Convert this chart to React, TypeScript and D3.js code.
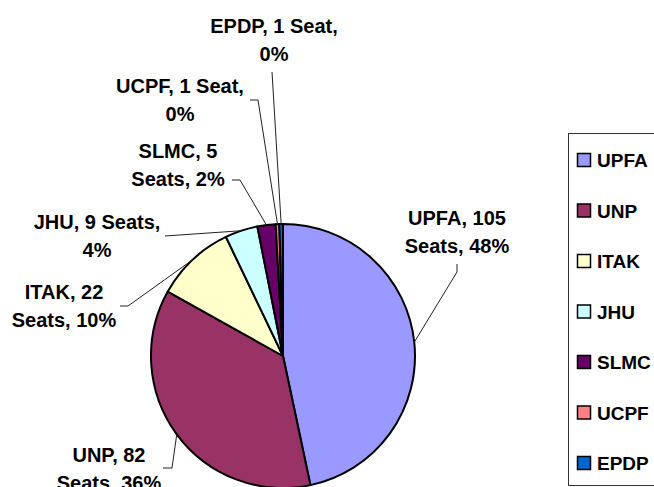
import React from "react";
import * as d3 from "d3";

const parties = ["UPFA", "UNP", "ITAK", "JHU", "SLMC", "UCPF", "EPDP"];
const seats = [105, 82, 22, 9, 5, 1, 1];
const percentLabels = ["48%", "36%", "10%", "4%", "2%", "0%", "0%"];
const colors = ["#9999FF", "#993366", "#FFFFCC", "#CCFFFF", "#660066", "#FF8080", "#0066CC"];

// label layout: line texts, center x, first baseline, leader start points
const labelLines = [
  ["UPFA, 105", "Seats, 48%"],
  ["UNP, 82", "Seats, 36%"],
  ["ITAK, 22", "Seats, 10%"],
  ["JHU, 9 Seats,", "4%"],
  ["SLMC, 5", "Seats, 2%"],
  ["UCPF, 1 Seat,", "0%"],
  ["EPDP, 1 Seat,", "0%"],
];
const labelX = [457, 109, 64, 97, 178, 180, 274];
const labelY = [225, 462, 299, 229, 158, 93, 33];
const leaderStart: [number, number][][] = [
  [[457, 264], [457, 272]],
  [[163, 468], [172, 468]],
  [[120, 306], [128, 306]],
  [[165, 236]],
  [[232, 180], [240, 180]],
  [[250, 100], [258, 100]],
  [[272, 72]],
];

const W = 654;
const H = 487;
const cx = 283;
const cy = 356;
const R = 132;

export default function App() {
  const pie = d3.pie<number>().sort(null).value((d) => d);
  const arcs = pie(seats);
  const arc = d3.arc<d3.PieArcDatum<number>>().innerRadius(0).outerRadius(R);
  const line = d3.line();

  const legendY0 = 160;
  const legendStep = 50.5;

  return (
    <svg
      width={W}
      height={H}
      style={{ position: "absolute", left: 0, top: 0, background: "#fff" }}
      fontFamily="'Liberation Sans', Arial, sans-serif"
      fontWeight="bold"
    >
      <rect x={0} y={0} width={W} height={H} fill="#fff" />
      <g transform={`translate(${cx},${cy})`}>
        {arcs.map((a, i) => (
          <path key={i} d={arc(a) || ""} fill={colors[i]} stroke="#000" strokeWidth={2} strokeLinejoin="round" />
        ))}
      </g>
      {arcs.map((a, i) => {
        const mid = (a.startAngle + a.endAngle) / 2;
        const p = d3.pointRadial(mid, R);
        const pts: [number, number][] = [...leaderStart[i], [cx + p[0], cy + p[1]]];
        return <path key={"l" + i} d={line(pts) || ""} fill="none" stroke="#222" strokeWidth={1} />;
      })}
      {labelLines.map((lines, i) => (
        <text key={"t" + i} fontSize={20} textAnchor="middle" fill="#000">
          {lines.map((s, j) => (
            <tspan key={j} x={labelX[i]} y={labelY[i] + j * 28}>
              {s}
            </tspan>
          ))}
        </text>
      ))}
      <rect x={568.5} y={133.5} width={120} height={352} fill="#fff" stroke="#333" strokeWidth={1} />
      {parties.map((p, i) => {
        const y = legendY0 + i * legendStep;
        return (
          <g key={"g" + i}>
            <rect x={577.5} y={y - 6.5} width={13} height={13} fill={colors[i]} stroke="#000" strokeWidth={1.5} />
            <text x={597} y={y + 7} fontSize={19} fill="#000">
              {p}
            </text>
          </g>
        );
      })}
    </svg>
  );
}
